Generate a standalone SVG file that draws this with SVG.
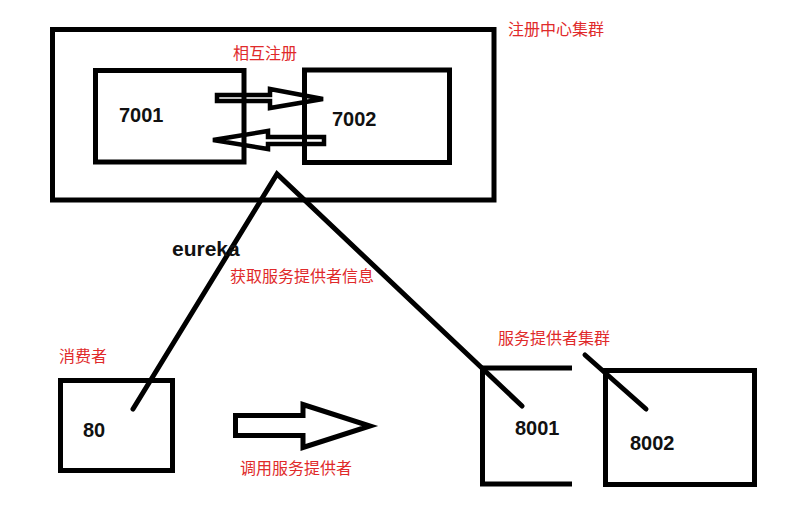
<svg xmlns="http://www.w3.org/2000/svg" width="794" height="527" viewBox="0 0 794 527">
<style>
.box{fill:none;stroke:#000;stroke-width:5}
.arr{fill:none;stroke:#000;stroke-width:4.5;stroke-linejoin:miter}
.con{fill:none;stroke:#000;stroke-width:5;stroke-linecap:round;stroke-linejoin:miter}
.num{font-family:"Liberation Sans",Arial,sans-serif;font-weight:bold;font-size:20px;fill:#111}
.lbl{font-family:"Noto Sans CJK SC","Noto Sans",sans-serif;font-size:16px;fill:#e02a2a}
</style>
<rect width="794" height="527" fill="#fff"/>
<g id="cluster-registry">
<rect class="box" x="52.5" y="29.5" width="441.5" height="170.5"/>
<text class="lbl" x="508" y="35">注册中心集群</text>
</g>
<g id="node-7001">
<rect class="box" x="95.5" y="70.5" width="148.5" height="91.5"/>
<text class="num" x="119" y="122">7001</text>
</g>
<g id="node-7002">
<rect class="box" x="304.5" y="70" width="145" height="92.5"/>
<text class="num" x="332" y="126">7002</text>
</g>
<g id="node-80">
<rect class="box" x="60.5" y="380.5" width="112" height="90"/>
<text class="num" x="83" y="437">80</text>
<text class="lbl" x="59" y="362">消费者</text>
</g>
<g id="node-8001">
<polyline class="box" points="572,368 482.5,368 482.5,484 572,484"/>
<text class="num" x="515" y="435">8001</text>
</g>
<g id="node-8002">
<rect class="box" x="605.5" y="370.5" width="149" height="114"/>
<text class="num" x="630" y="450">8002</text>
</g>
<text class="lbl" x="498" y="344">服务提供者集群</text>
<g id="connectors">
<polygon class="arr" points="217,95 270,95 270,89 323,99 270,108 270,101 217,101"/>
<polygon class="arr" points="213,140 268,131 268,137 324,137 324,144 268,144 268,149"/>
<text class="lbl" x="233" y="59">相互注册</text>
<polyline class="con" points="133,409 277,174 522,406"/>
<line class="con" x1="585" y1="355" x2="646" y2="409"/>
<text x="172" y="256" font-family="Liberation Sans,Arial,sans-serif" font-weight="bold" font-size="21" fill="#111">eureka</text>
<text class="lbl" x="230" y="282">获取服务提供者信息</text>
<polygon class="box" points="235.5,415.5 303,415.5 303,404.5 370,426 303,447.5 303,435.5 235.5,435.5"/>
<text class="lbl" x="240" y="474">调用服务提供者</text>
</g>
</svg>
